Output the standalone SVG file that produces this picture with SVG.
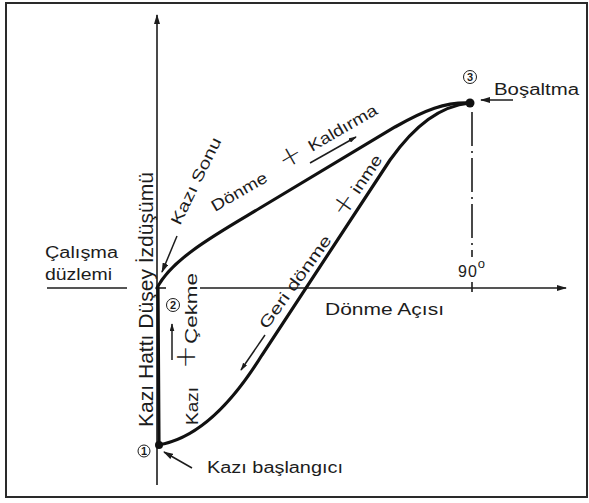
<svg xmlns="http://www.w3.org/2000/svg" width="589" height="503" viewBox="0 0 589 503">
<defs>
<style>
.t{font-family:"Liberation Sans",Arial,sans-serif;font-size:16px;fill:#1c1c1c}
.v{font-size:20px}
.p{font-family:"DejaVu Sans","Liberation Sans",sans-serif;font-weight:200;font-size:28px;fill:#1c1c1c;text-anchor:middle;dominant-baseline:central}
.n{font-family:"Liberation Sans",Arial,sans-serif;font-size:11px;font-weight:bold;fill:#1c1c1c;text-anchor:middle}
.ax{stroke:#1c1c1c;stroke-width:1.6;fill:none}
.cv{stroke:#111;stroke-width:3.2;fill:none;stroke-linecap:round}
.ar{stroke:#1c1c1c;stroke-width:1.5;fill:none}
.nc{fill:none;stroke:#1c1c1c;stroke-width:1}
</style>
<marker id="ah" viewBox="0 0 10 6" refX="9" refY="3" markerWidth="10" markerHeight="6" markerUnits="userSpaceOnUse" orient="auto">
<path d="M0,0 L10,3 L0,6 z" fill="#1c1c1c"/>
</marker>
<marker id="ahs" viewBox="0 0 10 6" refX="9" refY="3" markerWidth="8" markerHeight="5" markerUnits="userSpaceOnUse" orient="auto">
<path d="M0,0 L10,3 L0,6 z" fill="#1c1c1c"/>
</marker>
</defs>
<rect x="0" y="0" width="589" height="503" fill="#fff"/>
<rect x="6" y="3" width="581" height="494" fill="none" stroke="#2a2a2a" stroke-width="2"/>

<g id="connectors">
<line class="ax" x1="157" y1="485" x2="157" y2="15" marker-end="url(#ah)"/>
<line class="ax" x1="47" y1="288" x2="127" y2="288"/>
<line class="ax" x1="157" y1="288" x2="166" y2="288"/>
<line class="ax" x1="200" y1="288" x2="566" y2="288" marker-end="url(#ah)"/>
<line class="ax" x1="472" y1="112" x2="472" y2="257" stroke-dasharray="34 5 2 5"/>
<line class="ax" x1="472" y1="282" x2="472" y2="292"/>
<path class="cv" d="M159,445 L158,288"/>
<path class="cv" d="M157,288 C172,258 220,232 260,208 L395,127 C425,110 445,102 470,103"/>
<path class="cv" d="M158,445 C190,440 225,415 262,355 L390,160 C415,125 440,106 470,103"/>
<line class="ar" x1="513" y1="100" x2="481" y2="100" marker-end="url(#ah)"/>
<line class="ar" x1="192" y1="468" x2="164" y2="452" marker-end="url(#ah)"/>
<line class="ar" x1="177" y1="236" x2="162" y2="272" marker-end="url(#ah)"/>
<line class="ar" x1="310" y1="163" x2="356" y2="137" marker-end="url(#ahs)"/>
<line class="ar" x1="265" y1="335" x2="241" y2="370" marker-end="url(#ahs)"/>
<line class="ar" x1="172" y1="360" x2="172" y2="324" marker-end="url(#ahs)"/>
</g>

<g id="point1">
<circle cx="159" cy="445" r="4" fill="#111"/>
<circle class="nc" cx="144" cy="451" r="6"/>
<text class="n" x="144" y="455">1</text>
</g>
<g id="point2">
<circle class="nc" cx="173" cy="305" r="6.5"/>
<text class="n" x="173" y="309">2</text>
</g>
<g id="point3">
<circle cx="470" cy="103" r="4.5" fill="#111"/>
<circle class="nc" cx="470" cy="77" r="6.5"/>
<text class="n" x="470" y="81">3</text>
</g>

<g id="label-bosaltma"><text class="t" x="494" y="95" textLength="85" lengthAdjust="spacingAndGlyphs">Boşaltma</text></g>
<g id="label-calisma">
<text class="t" x="45" y="258" textLength="73" lengthAdjust="spacingAndGlyphs">Çalışma</text>
<text class="t" x="45" y="280" textLength="67" lengthAdjust="spacingAndGlyphs">düzlemi</text>
</g>
<g id="label-donme-acisi"><text class="t" x="325" y="315" textLength="119" lengthAdjust="spacingAndGlyphs">Dönme Açısı</text></g>
<g id="label-90"><text class="t" x="458" y="277" font-size="17" letter-spacing="1">90<tspan dy="-9" font-size="13">o</tspan></text></g>
<g id="label-kazi-baslangici"><text class="t" x="207" y="473" textLength="136" lengthAdjust="spacingAndGlyphs">Kazı başlangıcı</text></g>
<g id="label-dusey"><text class="t v" transform="translate(153,427) rotate(-90)" textLength="255" lengthAdjust="spacingAndGlyphs">Kazı Hattı Düşey İzdüşümü</text></g>
<g id="label-kazi-cekme">
<text class="t" font-size="18" transform="translate(198,425) rotate(-90)" textLength="38" lengthAdjust="spacingAndGlyphs">Kazı</text>
<text class="p" transform="translate(185,357) rotate(-90)">+</text>
<text class="t" font-size="18" transform="translate(197,344) rotate(-90)" textLength="71" lengthAdjust="spacingAndGlyphs">Çekme</text>
</g>
<g id="label-kazi-sonu"><text class="t" transform="translate(180,226) rotate(-64)" textLength="95" lengthAdjust="spacingAndGlyphs">Kazı Sonu</text></g>
<g id="label-donme-kaldirma">
<text class="t" transform="translate(215,212) rotate(-30)" textLength="62" lengthAdjust="spacingAndGlyphs">Dönme</text>
<text class="p" transform="translate(290,156) rotate(-30)">+</text>
<text class="t" transform="translate(312,152) rotate(-30)" textLength="77" lengthAdjust="spacingAndGlyphs">Kaldırma</text>
</g>
<g id="label-geri-donme-inme">
<text class="t" transform="translate(267,330) rotate(-54)" textLength="111" lengthAdjust="spacingAndGlyphs">Geri dönme</text>
<text class="p" transform="translate(343,204) rotate(-55)">+</text>
<text class="t" transform="translate(359,195) rotate(-56)" textLength="43" lengthAdjust="spacingAndGlyphs">inme</text>
</g>
</svg>
